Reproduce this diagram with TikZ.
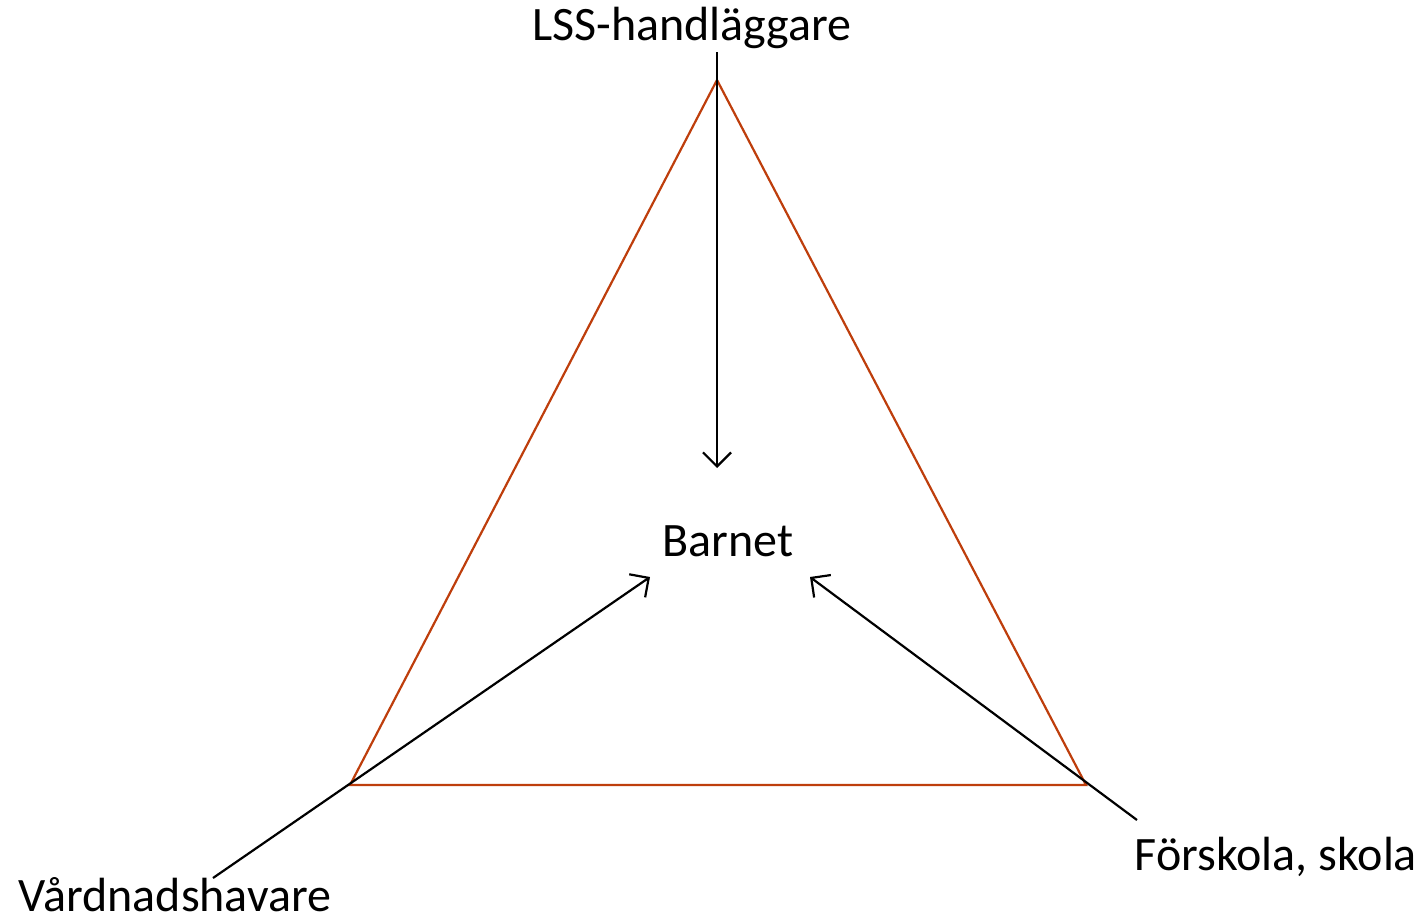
\documentclass[tikz,border=0pt]{standalone}
\usepackage{fontspec}
\setmainfont{Carlito}
\usetikzlibrary{arrows.meta}
\definecolor{tri}{RGB}{190,62,12}
\begin{document}
\begin{tikzpicture}[x=0.5pt,y=-0.5pt,
  lbl/.style={font=\fontsize{24}{28}\selectfont, inner sep=0pt},
  conn/.style={draw=black, line width=1.1pt, -{Straight Barb[length=7pt,width=14pt,line width=1.1pt]}},
  triline/.style={draw=tri, line width=1.1pt, line join=miter}]
\useasboundingbox (0,0) rectangle (1425,921);
\coordinate (A) at (717,80);
\coordinate (B) at (350,785);
\coordinate (C) at (1086,785);
\draw[triline] (A) -- (B) -- (C) -- cycle;
\node[lbl] (lss) at (692,28) {LSS-handläggare};
\node[lbl] (barn) at (728,541) {Barnet};
\node[lbl] (vard) at (175,895) {Vårdnadshavare};
\node[lbl] (fors) at (1276,857) {Förskola, skola};
\coordinate (t0) at (717,52);
\coordinate (t1) at (717,468);
\coordinate (l0) at (213,878);
\coordinate (l1) at (650,577);
\coordinate (r0) at (1137,820);
\coordinate (r1) at (810,577);
\draw[conn] (t0) -- (t1);
\draw[conn] (l0) -- (l1);
\draw[conn] (r0) -- (r1);
\end{tikzpicture}
\end{document}
